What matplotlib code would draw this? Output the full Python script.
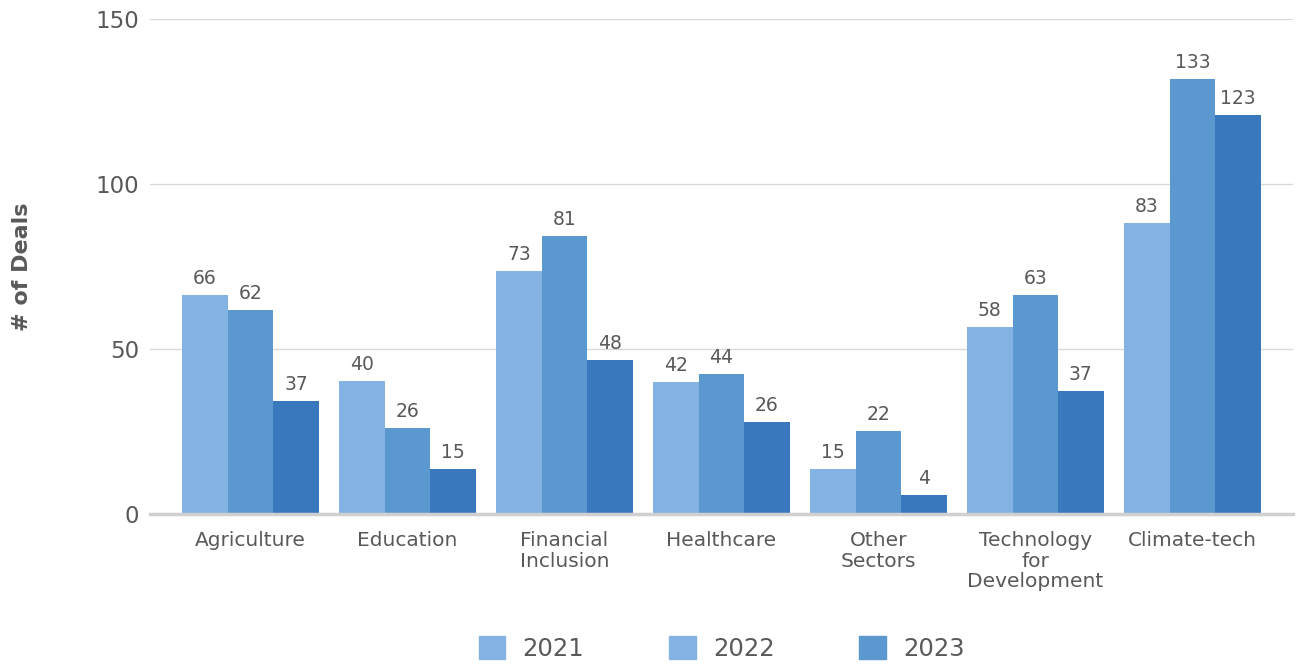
import matplotlib.pyplot as plt
import numpy as np
from matplotlib.patches import Patch

plt.rcParams['font.family'] = ['DejaVu Sans']

sectors = ['Agriculture', 'Education', 'Financial\nInclusion', 'Healthcare',
           'Other\nSectors', 'Technology\nfor\nDevelopment', 'Climate-tech']
years = ['2021', '2022', '2023']

# bar heights as drawn in the picture
h2021 = [66.4, 40.3, 73.6, 40.0, 13.6, 56.7, 88.2]
h2022 = [61.8, 26.0, 84.2, 42.4, 25.2, 66.4, 131.8]
h2023 = [34.2, 13.6, 46.7, 27.9, 5.8, 37.3, 120.9]

# the numbers printed above the bars
lab2021 = [66, 40, 73, 42, 15, 58, 83]
lab2022 = [62, 26, 81, 44, 22, 63, 133]
lab2023 = [37, 15, 48, 26, 4, 37, 123]

colors = ['#84B3E3', '#5C98D0', '#3A78BE']
legend_colors = ['#84B3E3', '#84B3E3', '#5C98D0']
grey = '#595959'

fig = plt.figure(figsize=(12.98, 6.66), dpi=100)
ax = fig.add_axes([0.1156, 0.228, 0.8804, 0.7435])

x = np.arange(len(sectors))
w = 0.29
for i, (h, lab) in enumerate(zip([h2021, h2022, h2023], [lab2021, lab2022, lab2023])):
    bars = ax.bar(x + (i - 1) * w, h, width=w, color=colors[i], zorder=3)
    ax.bar_label(bars, labels=[str(v) for v in lab], padding=5,
                 fontsize=13.5, color=grey)

ax.set_xlim(-0.64, 6.64)
ax.set_ylim(0, 150)
ax.set_yticks([0, 50, 100, 150])
ax.yaxis.grid(True, color='#D9D9D9', linewidth=1, zorder=0)
for s in ['top', 'right', 'left']:
    ax.spines[s].set_visible(False)
ax.spines['bottom'].set_color('#D0D0D0')
ax.spines['bottom'].set_linewidth(2.5)
ax.spines['bottom'].set_zorder(4)
ax.tick_params(axis='y', length=0, labelsize=16.5, labelcolor=grey, pad=8)
ax.tick_params(axis='x', length=0, labelsize=14.5, labelcolor=grey, pad=12)
ax.set_xticks(x)
ax.set_xticklabels(sectors, linespacing=1.12)

fig.text(0.017, 0.6, '# of Deals', rotation=90, ha='center', va='center',
         fontsize=16, fontweight='bold', color=grey)

handles = [Patch(color=c) for c in legend_colors]
fig.legend(handles, years, loc='lower center', bbox_to_anchor=(0.556, -0.025),
           ncol=3, frameon=False, fontsize=17.5, labelcolor=grey,
           handlelength=1.1, handleheight=1.1, handletextpad=0.7,
           columnspacing=3.5)

fig.savefig('out.png', dpi=100)
